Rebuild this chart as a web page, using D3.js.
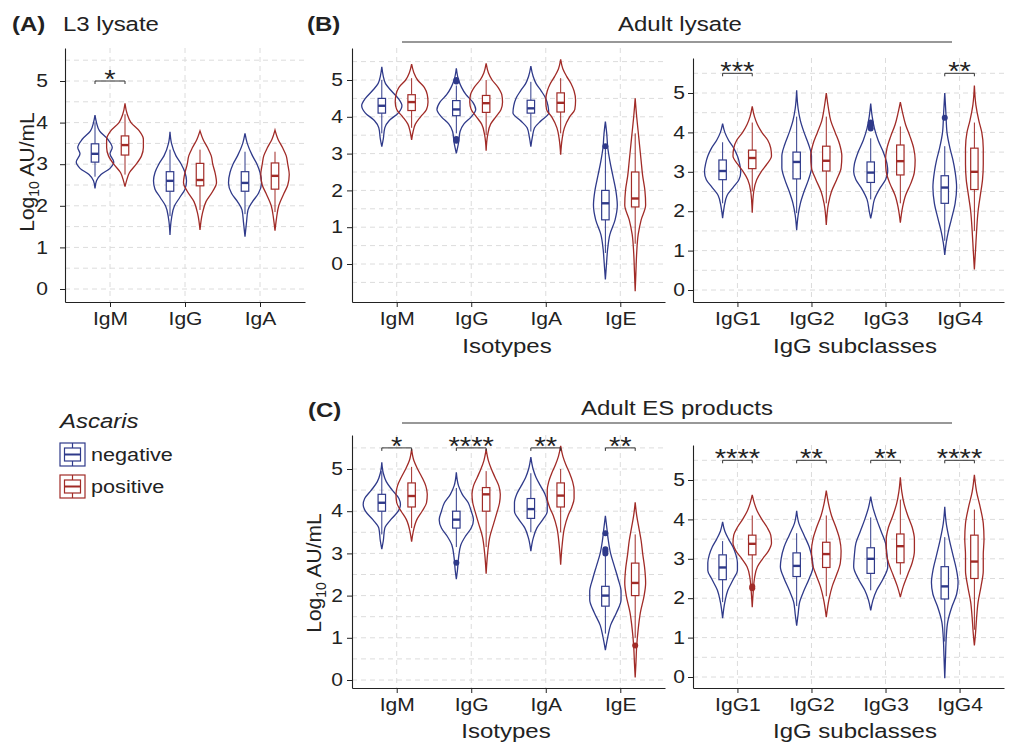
<!DOCTYPE html>
<html>
<head>
<meta charset="utf-8">
<script src="https://cdn.jsdelivr.net/npm/d3@7"></script>
<style>
	body { margin: 0; background: #fff; }
	svg { font-family: "Liberation Sans", Arial, sans-serif; }
</style>
</head>
<body>
<svg id="chart" width="1014" height="744"></svg>
<script>
// categories
const catsA = ["IgM", "IgG", "IgA"]
const isotypes = ["IgM", "IgG", "IgA", "IgE"]
const subclasses = ["IgG1", "IgG2", "IgG3", "IgG4"]
const groups = ["negative", "positive"]
const yTicks = [0, 1, 2, 3, 4, 5]

// violins: [category, group, [[log10 value, half width in category steps], ...]]
const violinsA = [
	["IgM", "negative", [[2.42,0],[2.6,0.02],[2.75,0.08],[2.9,0.2],[3.05,0.25],[3.25,0.2],[3.4,0.23],[3.6,0.17],[3.8,0.06],[4.0,0.02],[4.18,0]]],
	["IgM", "positive", [[2.46,0],[2.6,0.02],[2.8,0.06],[3.0,0.15],[3.2,0.22],[3.4,0.245],[3.6,0.245],[3.8,0.19],[4.0,0.08],[4.2,0.03],[4.46,0]]],
	["IgG", "negative", [[1.3,0],[1.7,0.02],[2.0,0.06],[2.2,0.13],[2.4,0.2],[2.6,0.22],[2.8,0.2],[3.0,0.15],[3.2,0.08],[3.5,0.02],[3.78,0]]],
	["IgG", "positive", [[1.42,0],[1.8,0.03],[2.1,0.08],[2.35,0.17],[2.55,0.22],[2.8,0.2],[3.0,0.17],[3.2,0.15],[3.4,0.1],[3.6,0.04],[3.8,0]]],
	["IgA", "negative", [[1.26,0],[1.6,0.02],[1.9,0.04],[2.1,0.1],[2.3,0.18],[2.55,0.22],[2.8,0.2],[3.0,0.16],[3.2,0.1],[3.5,0.03],[3.74,0]]],
	["IgA", "positive", [[1.4,0],[1.7,0.02],[2.0,0.05],[2.3,0.12],[2.5,0.17],[2.75,0.19],[3.0,0.17],[3.2,0.15],[3.4,0.1],[3.6,0.04],[3.82,0]]]
]
const violinsBIso = [
	["IgM", "negative", [[3.19,0],[3.4,0.02],[3.7,0.04],[3.9,0.1],[4.1,0.22],[4.3,0.27],[4.5,0.22],[4.7,0.13],[4.9,0.05],[5.1,0.02],[5.36,0]]],
	["IgM", "positive", [[3.37,0],[3.6,0.02],[3.8,0.05],[4.0,0.12],[4.2,0.2],[4.4,0.22],[4.6,0.21],[4.8,0.17],[5.0,0.08],[5.2,0.03],[5.43,0]]],
	["IgG", "negative", [[3.01,0],[3.3,0.03],[3.6,0.05],[3.8,0.1],[4.0,0.2],[4.2,0.26],[4.4,0.22],[4.6,0.13],[4.8,0.07],[5.0,0.03],[5.32,0]]],
	["IgG", "positive", [[3.08,0],[3.5,0.02],[3.8,0.06],[4.0,0.13],[4.2,0.2],[4.4,0.22],[4.6,0.21],[4.8,0.16],[5.0,0.08],[5.2,0.03],[5.45,0]]],
	["IgA", "negative", [[3.19,0],[3.45,0.02],[3.7,0.05],[3.9,0.14],[4.1,0.24],[4.3,0.23],[4.5,0.2],[4.7,0.14],[4.9,0.07],[5.1,0.03],[5.38,0]]],
	["IgA", "positive", [[2.97,0],[3.4,0.02],[3.7,0.05],[4.0,0.12],[4.2,0.19],[4.45,0.2],[4.7,0.18],[4.9,0.14],[5.1,0.08],[5.3,0.03],[5.56,0]]],
	["IgE", "negative", [[-0.42,0],[0.0,0.015],[0.4,0.03],[0.8,0.06],[1.2,0.13],[1.6,0.16],[2.0,0.14],[2.4,0.1],[2.8,0.06],[3.2,0.03],[3.5,0.02],[3.87,0]]],
	["IgE", "positive", [[-0.74,0],[-0.2,0.01],[0.3,0.02],[0.8,0.04],[1.2,0.08],[1.6,0.14],[2.0,0.13],[2.4,0.1],[2.8,0.08],[3.2,0.06],[3.6,0.04],[4.0,0.02],[4.5,0]]]
]
const violinsBSub = [
	["IgG1", "negative", [[1.82,0],[2.1,0.02],[2.4,0.06],[2.6,0.14],[2.8,0.22],[3.0,0.245],[3.2,0.23],[3.4,0.2],[3.6,0.15],[3.8,0.08],[4.0,0.03],[4.22,0]]],
	["IgG1", "positive", [[1.96,0],[2.5,0.02],[2.8,0.06],[3.0,0.12],[3.2,0.2],[3.4,0.26],[3.6,0.25],[3.8,0.21],[4.0,0.13],[4.2,0.07],[4.4,0.03],[4.66,0]]],
	["IgG2", "negative", [[1.52,0],[1.9,0.02],[2.2,0.05],[2.5,0.1],[2.8,0.16],[3.1,0.2],[3.4,0.2],[3.7,0.16],[4.0,0.1],[4.3,0.05],[4.6,0.02],[5.07,0]]],
	["IgG2", "positive", [[1.65,0],[2.2,0.03],[2.5,0.07],[2.8,0.14],[3.1,0.2],[3.4,0.21],[3.7,0.18],[4.0,0.12],[4.3,0.06],[4.6,0.03],[5.0,0]]],
	["IgG3", "negative", [[1.82,0],[2.0,0.02],[2.3,0.05],[2.6,0.13],[2.8,0.2],[3.0,0.23],[3.2,0.22],[3.5,0.17],[3.8,0.1],[4.1,0.05],[4.4,0.02],[4.73,0]]],
	["IgG3", "positive", [[1.71,0],[2.1,0.03],[2.4,0.07],[2.7,0.14],[3.0,0.19],[3.3,0.2],[3.6,0.18],[3.9,0.13],[4.2,0.07],[4.5,0.03],[4.77,0]]],
	["IgG4", "negative", [[0.89,0],[1.2,0.02],[1.5,0.05],[1.8,0.09],[2.2,0.14],[2.6,0.16],[3.0,0.14],[3.3,0.11],[3.6,0.07],[4.0,0.03],[4.5,0.015],[5.0,0]]],
	["IgG4", "positive", [[0.52,0],[1.0,0.015],[1.5,0.03],[2.0,0.05],[2.4,0.08],[2.8,0.11],[3.2,0.12],[3.6,0.12],[4.0,0.1],[4.3,0.06],[4.7,0.02],[5.19,0]]]
]
const violinsCIso = [
	["IgM", "negative", [[3.1,0],[3.3,0.02],[3.6,0.04],[3.8,0.12],[4.0,0.22],[4.15,0.25],[4.3,0.23],[4.5,0.14],[4.7,0.06],[4.9,0.02],[5.16,0]]],
	["IgM", "positive", [[3.28,0],[3.5,0.02],[3.8,0.07],[4.0,0.14],[4.2,0.2],[4.4,0.21],[4.6,0.19],[4.8,0.14],[5.0,0.08],[5.2,0.03],[5.47,0]]],
	["IgG", "negative", [[2.39,0],[2.6,0.015],[2.9,0.03],[3.2,0.06],[3.4,0.12],[3.6,0.2],[3.8,0.23],[4.0,0.2],[4.2,0.16],[4.4,0.08],[4.6,0.03],[4.92,0]]],
	["IgG", "positive", [[2.52,0],[3.0,0.02],[3.4,0.05],[3.7,0.1],[4.0,0.15],[4.2,0.18],[4.4,0.19],[4.6,0.17],[4.8,0.12],[5.0,0.07],[5.2,0.03],[5.47,0]]],
	["IgA", "negative", [[3.05,0],[3.35,0.03],[3.6,0.08],[3.8,0.16],[4.0,0.22],[4.2,0.22],[4.4,0.19],[4.6,0.13],[4.8,0.07],[5.0,0.03],[5.28,0]]],
	["IgA", "positive", [[2.73,0],[3.2,0.02],[3.6,0.05],[3.9,0.1],[4.1,0.15],[4.3,0.18],[4.5,0.18],[4.7,0.16],[4.9,0.12],[5.1,0.07],[5.3,0.03],[5.55,0]]],
	["IgE", "negative", [[0.71,0],[1.0,0.03],[1.3,0.07],[1.6,0.15],[1.9,0.21],[2.1,0.21],[2.4,0.17],[2.7,0.12],[3.0,0.07],[3.3,0.04],[3.6,0.02],[3.89,0]]],
	["IgE", "positive", [[0.06,0],[0.4,0.01],[0.8,0.02],[1.2,0.04],[1.6,0.07],[2.0,0.12],[2.3,0.14],[2.6,0.13],[3.0,0.1],[3.3,0.08],[3.6,0.05],[3.9,0.02],[4.21,0]]]
]
const violinsCSub = [
	["IgG1", "negative", [[1.49,0],[1.9,0.03],[2.2,0.07],[2.5,0.15],[2.7,0.2],[2.9,0.2],[3.1,0.18],[3.3,0.14],[3.5,0.08],[3.7,0.03],[3.94,0]]],
	["IgG1", "positive", [[1.77,0],[2.2,0.015],[2.5,0.03],[2.8,0.07],[3.0,0.14],[3.2,0.22],[3.4,0.26],[3.6,0.25],[3.8,0.2],[4.0,0.13],[4.2,0.07],[4.4,0.03],[4.62,0]]],
	["IgG2", "negative", [[1.3,0],[1.6,0.02],[1.9,0.04],[2.2,0.1],[2.5,0.17],[2.8,0.22],[3.0,0.21],[3.3,0.17],[3.6,0.1],[3.9,0.03],[4.22,0]]],
	["IgG2", "positive", [[1.52,0],[2.0,0.04],[2.3,0.08],[2.6,0.14],[2.9,0.19],[3.2,0.2],[3.5,0.18],[3.8,0.13],[4.1,0.07],[4.4,0.03],[4.73,0]]],
	["IgG3", "negative", [[1.69,0],[1.95,0.03],[2.2,0.08],[2.5,0.17],[2.8,0.23],[3.1,0.22],[3.4,0.2],[3.7,0.14],[4.0,0.08],[4.3,0.03],[4.58,0]]],
	["IgG3", "positive", [[2.03,0],[2.3,0.04],[2.6,0.1],[2.9,0.16],[3.2,0.19],[3.5,0.19],[3.8,0.16],[4.1,0.1],[4.4,0.05],[4.7,0.02],[5.07,0]]],
	["IgG4", "negative", [[-0.03,0],[0.5,0.01],[1.0,0.02],[1.4,0.04],[1.8,0.1],[2.1,0.16],[2.4,0.18],[2.7,0.16],[3.1,0.11],[3.5,0.06],[3.9,0.02],[4.32,0]]],
	["IgG4", "positive", [[0.8,0],[1.1,0.015],[1.5,0.03],[1.9,0.05],[2.3,0.09],[2.7,0.12],[3.1,0.12],[3.5,0.13],[3.9,0.12],[4.3,0.08],[4.7,0.03],[5.13,0]]]
]

// boxes: [category, group, lower whisker, q1, median, q3, upper whisker]
const boxesA = [
	["IgM", "negative", 2.7, 3.05, 3.25, 3.49, 4.0],
	["IgM", "positive", 2.75, 3.22, 3.46, 3.68, 4.2],
	["IgG", "negative", 1.75, 2.35, 2.6, 2.82, 3.35],
	["IgG", "positive", 1.9, 2.48, 2.62, 3.02, 3.35],
	["IgA", "negative", 1.8, 2.35, 2.55, 2.82, 3.3],
	["IgA", "positive", 1.85, 2.4, 2.72, 3.03, 3.3]
]
const boxesBIso = [
	["IgM", "negative", 3.55, 4.1, 4.3, 4.5, 5.0],
	["IgM", "positive", 3.7, 4.17, 4.4, 4.6, 5.05],
	["IgG", "negative", 3.55, 4.03, 4.2, 4.44, 4.85],
	["IgG", "positive", 3.5, 4.12, 4.37, 4.58, 5.0],
	["IgA", "negative", 3.6, 4.1, 4.23, 4.45, 4.95],
	["IgA", "positive", 3.55, 4.13, 4.38, 4.65, 5.05],
	["IgE", "negative", 0.3, 1.2, 1.65, 2.0, 3.15],
	["IgE", "positive", 0.55, 1.55, 1.78, 2.5, 3.55]
]
const boxesBSub = [
	["IgG1", "negative", 2.2, 2.8, 3.02, 3.3, 3.75],
	["IgG1", "positive", 2.5, 3.08, 3.35, 3.55, 4.25],
	["IgG2", "negative", 1.95, 2.82, 3.25, 3.5, 4.4],
	["IgG2", "positive", 2.2, 3.02, 3.28, 3.65, 4.4],
	["IgG3", "negative", 2.3, 2.73, 2.98, 3.25, 3.85],
	["IgG3", "positive", 2.2, 2.92, 3.27, 3.68, 4.15],
	["IgG4", "negative", 1.25, 2.2, 2.6, 2.9, 3.65],
	["IgG4", "positive", 1.5, 2.55, 3.0, 3.6, 4.25]
]
const boxesCIso = [
	["IgM", "negative", 3.45, 4.0, 4.2, 4.4, 4.95],
	["IgM", "positive", 3.6, 4.1, 4.36, 4.67, 5.05],
	["IgG", "negative", 3.15, 3.6, 3.8, 4.0, 4.55],
	["IgG", "positive", 3.15, 4.0, 4.4, 4.56, 4.95],
	["IgA", "negative", 3.5, 3.83, 4.05, 4.3, 4.9],
	["IgA", "positive", 3.5, 4.1, 4.37, 4.67, 5.0],
	["IgE", "negative", 1.1, 1.75, 2.0, 2.22, 2.95],
	["IgE", "positive", 1.0, 2.0, 2.3, 2.77, 3.45]
]
const boxesCSub = [
	["IgG1", "negative", 1.9, 2.47, 2.78, 3.1, 3.45],
	["IgG1", "positive", 2.35, 3.1, 3.38, 3.6, 4.1],
	["IgG2", "negative", 1.8, 2.55, 2.82, 3.15, 3.65],
	["IgG2", "positive", 2.05, 2.78, 3.12, 3.42, 4.1],
	["IgG3", "negative", 2.2, 2.63, 3.0, 3.28, 4.05],
	["IgG3", "positive", 2.6, 2.9, 3.32, 3.63, 4.5],
	["IgG4", "negative", 0.9, 1.98, 2.3, 2.8, 3.55],
	["IgG4", "positive", 1.2, 2.5, 2.93, 3.6, 4.25]
]

// outliers: [category, group, value]
const outliersA = []
const outliersBIso = [["IgG", "negative", 5.0], ["IgG", "negative", 4.96], ["IgG", "negative", 3.35], ["IgG", "negative", 3.4], ["IgE", "negative", 3.2]]
const outliersBSub = [["IgG3", "negative", 4.25], ["IgG3", "negative", 4.1], ["IgG3", "negative", 4.18], ["IgG4", "negative", 4.37]]
const outliersCIso = [["IgG", "negative", 2.78], ["IgE", "negative", 3.48], ["IgE", "negative", 3.1], ["IgE", "negative", 3.05], ["IgE", "negative", 3.0], ["IgE", "positive", 0.82]]
const outliersCSub = [["IgG1", "positive", 2.25], ["IgG1", "positive", 2.3]]

// significance: [category, stars, bracket height]
const starsA = [["IgM", "*", 5.0]]
const starsBIso = []
const starsBSub = [["IgG1", "***", 5.5], ["IgG4", "**", 5.5]]
const starsCIso = [["IgM", "*", 5.5], ["IgG", "****", 5.5], ["IgA", "**", 5.5], ["IgE", "**", 5.5]]
const starsCSub = [["IgG1", "****", 5.5], ["IgG2", "**", 5.5], ["IgG3", "**", 5.5], ["IgG4", "****", 5.5]]

const color = d3.scaleOrdinal().domain(groups).range(["#2f3a8a", "#a12b27"])
const ink = "#222"
const svg = d3.select("#chart")
// the source figure is a little wider than tall, so text is stretched sideways
const textStretch = 1.17

// panel layout (pixels): x range, top/bottom of axis, pixel rows of 0 and 5
const panels = [
	{ cats: catsA, x0: 65, x1: 305, top: 48, bottom: 302, y0: 289, y5: 81, pad: 12, violins: violinsA, boxes: boxesA, outliers: outliersA, stars: starsA },
	{ cats: isotypes, x0: 352, x1: 665, top: 48, bottom: 302, y0: 264, y5: 80, pad: 4, violins: violinsBIso, boxes: boxesBIso, outliers: outliersBIso, stars: starsBIso },
	{ cats: subclasses, x0: 693, x1: 1004, top: 58, bottom: 302, y0: 290, y5: 93, pad: 3, violins: violinsBSub, boxes: boxesBSub, outliers: outliersBSub, stars: starsBSub },
	{ cats: isotypes, x0: 352, x1: 665, top: 435, bottom: 688, y0: 680, y5: 469, pad: 4, violins: violinsCIso, boxes: boxesCIso, outliers: outliersCIso, stars: starsCIso },
	{ cats: subclasses, x0: 693, x1: 1004, top: 445, bottom: 688, y0: 677, y5: 480, pad: 3, violins: violinsCSub, boxes: boxesCSub, outliers: outliersCSub, stars: starsCSub }
]

const drawPanel = function(p) {
	const g = svg.append("g")

	const yRef = d3.scaleLinear().domain([0, 5]).range([p.y0, p.y5])
	const y = d3.scaleLinear()
		.domain([yRef.invert(p.bottom), yRef.invert(p.top)])
		.range([p.bottom, p.top])
	const x = d3.scalePoint().domain(p.cats).range([p.x0, p.x1]).padding(0.6)
	const step = x.step()
	const dodge = d3.scalePoint().domain(groups).range([-0.2, 0.2])
	const cx = (cat, grp) => x(cat) + dodge(grp) * step

	// dashed grid, majors and minors alike
	const gridVals = d3.range(Math.ceil(y.domain()[0] * 2) / 2, y.domain()[1], 0.5)
		.filter(v => y(v) < p.bottom - 3)
	g.selectAll(".hgrid").data(gridVals).join("line")
		.attr("x1", p.x0).attr("x2", p.x1)
		.attr("y1", d => y(d)).attr("y2", d => y(d))
		.attr("stroke", "#dcdcdc").attr("stroke-dasharray", "5,4")
	g.selectAll(".vgrid").data(p.cats).join("line")
		.attr("x1", d => x(d)).attr("x2", d => x(d))
		.attr("y1", p.top).attr("y2", p.bottom)
		.attr("stroke", "#dcdcdc").attr("stroke-dasharray", "5,4")

	// violins
	g.selectAll(".violin").data(p.violins).join("path")
		.attr("d", d => {
			const c = cx(d[0], d[1])
			return d3.area()
				.curve(d3.curveMonotoneY)
				.y(e => y(e[0]))
				.x0(e => c - e[1] * step)
				.x1(e => c + e[1] * step)(d[2])
		})
		.attr("fill", "none")
		.attr("stroke", d => color(d[1]))
		.attr("stroke-width", 1.3)

	// boxplots
	const bw = 0.05 * step
	const box = g.selectAll(".box").data(p.boxes).join("g")
		.attr("stroke", d => color(d[1]))
	box.append("line")
		.attr("x1", d => cx(d[0], d[1])).attr("x2", d => cx(d[0], d[1]))
		.attr("y1", d => y(d[2])).attr("y2", d => y(d[3]))
	box.append("line")
		.attr("x1", d => cx(d[0], d[1])).attr("x2", d => cx(d[0], d[1]))
		.attr("y1", d => y(d[5])).attr("y2", d => y(d[6]))
	box.append("rect")
		.attr("x", d => cx(d[0], d[1]) - bw)
		.attr("width", bw * 2)
		.attr("y", d => y(d[5]))
		.attr("height", d => y(d[3]) - y(d[5]))
		.attr("fill", "white")
		.attr("stroke-width", 1.2)
	box.append("line")
		.attr("x1", d => cx(d[0], d[1]) - bw).attr("x2", d => cx(d[0], d[1]) + bw)
		.attr("y1", d => y(d[4])).attr("y2", d => y(d[4]))
		.attr("stroke-width", 2.4)

	g.selectAll(".outlier").data(p.outliers).join("circle")
		.attr("cx", d => cx(d[0], d[1]))
		.attr("cy", d => y(d[2]))
		.attr("r", 3)
		.attr("fill", d => color(d[1]))

	// significance brackets
	const sig = g.selectAll(".sig").data(p.stars).join("g")
	sig.append("path")
		.attr("d", d => {
			const yb = y(d[2])
			return `M${cx(d[0], groups[0])},${yb + 3}V${yb}H${cx(d[0], groups[1])}V${yb + 3}`
		})
		.attr("fill", "none").attr("stroke", "#333").attr("stroke-width", 1)
	sig.append("text")
		.attr("x", d => x(d[0]))
		.attr("y", d => y(d[2]) + 7)
		.attr("text-anchor", "middle")
		.attr("font-size", 25)
		.attr("fill", ink)
		.text(d => d[1])

	// axes
	const yAxis = g.append("g")
		.attr("transform", `translate(${p.x0},0)`)
		.call(d3.axisLeft(y).tickValues(yTicks).tickFormat(d3.format("d"))
			.tickSize(5).tickSizeOuter(0).tickPadding(p.pad))
	const xAxis = g.append("g")
		.attr("transform", `translate(0,${p.bottom})`)
		.call(d3.axisBottom(x).tickSize(5).tickSizeOuter(0).tickPadding(5))
	;[yAxis, xAxis].forEach(a => {
		a.select(".domain").attr("stroke", ink).attr("stroke-width", 1.1)
		a.selectAll(".tick line").attr("stroke", ink)
		a.selectAll("text")
			.attr("font-size", 18)
			.attr("font-family", "Liberation Sans, Arial, sans-serif")
			.attr("fill", ink)
	})
}

panels.forEach(drawPanel)

// titles and headers
const addText = (x, y, txt, size, opts) => {
	opts = opts || {}
	return svg.append("text")
		.attr("x", x).attr("y", y)
		.attr("font-size", size)
		.attr("fill", ink)
		.attr("text-anchor", opts.anchor || "start")
		.attr("font-weight", opts.bold ? "bold" : null)
		.attr("font-style", opts.italic ? "italic" : null)
		.text(txt)
}

addText(12, 31.5, "(A)", 20.5, { bold: true })
addText(63, 31.5, "L3 lysate", 20.5)
addText(307, 31.5, "(B)", 20.5, { bold: true })
addText(680, 31, "Adult lysate", 20.5, { anchor: "middle" })
addText(308, 417, "(C)", 20.5, { bold: true })
addText(677, 415, "Adult ES products", 20.5, { anchor: "middle" })

svg.append("line").attr("x1", 402).attr("x2", 952).attr("y1", 42).attr("y2", 42)
	.attr("stroke", "#333").attr("stroke-width", 1.2)
svg.append("line").attr("x1", 402).attr("x2", 952).attr("y1", 423).attr("y2", 423)
	.attr("stroke", "#333").attr("stroke-width", 1.2)

addText(507, 353, "Isotypes", 20.5, { anchor: "middle" })
addText(855, 353, "IgG subclasses", 20.5, { anchor: "middle" })
addText(506, 738, "Isotypes", 20.5, { anchor: "middle" })
addText(855, 738, "IgG subclasses", 20.5, { anchor: "middle" })

// legend
addText(60, 428, "Ascaris", 20.5, { italic: true })
const legend = svg.selectAll(".key").data(groups).join("g")
	.attr("transform", (d, i) => `translate(60,${443 + i * 32})`)
	.attr("stroke", d => color(d))
	.attr("fill", "none")
	.attr("stroke-width", 1.2)
legend.append("rect").attr("width", 25).attr("height", 23).attr("fill", "white")
legend.append("rect").attr("x", 4.5).attr("y", 5).attr("width", 16).attr("height", 13)
legend.append("line").attr("x1", 4.5).attr("x2", 20.5).attr("y1", 11.5).attr("y2", 11.5).attr("stroke-width", 2)
legend.append("line").attr("x1", 12.5).attr("x2", 12.5).attr("y1", 0).attr("y2", 5)
legend.append("line").attr("x1", 12.5).attr("x2", 12.5).attr("y1", 18).attr("y2", 23)
legend.append("text")
	.attr("x", 31).attr("y", 18)
	.attr("stroke", "none").attr("fill", ink)
	.attr("font-size", 18.5)
	.text(d => d)

// widen every horizontal text about its anchor point
svg.selectAll("text").each(function() {
	const t = d3.select(this)
	const tx = +t.attr("x") || 0
	const ty = +t.attr("y") || 0
	t.attr("transform", `translate(${tx},${ty}) scale(${textStretch},1) translate(${-tx},${-ty})`)
})

// rotated y titles, added after the stretch so they keep their length
const yTitle = function(x, y) {
	const t = svg.append("text")
		.attr("transform", `translate(${x},${y}) rotate(-90)`)
		.attr("text-anchor", "middle")
		.attr("font-size", 21)
		.attr("fill", ink)
	t.append("tspan").text("Log")
	t.append("tspan").attr("font-size", 14).attr("dy", 5).text("10")
	t.append("tspan").attr("dy", -5).text(" AU/mL")
}
yTitle(34, 172)
yTitle(321, 573)
</script>
</body>
</html>
